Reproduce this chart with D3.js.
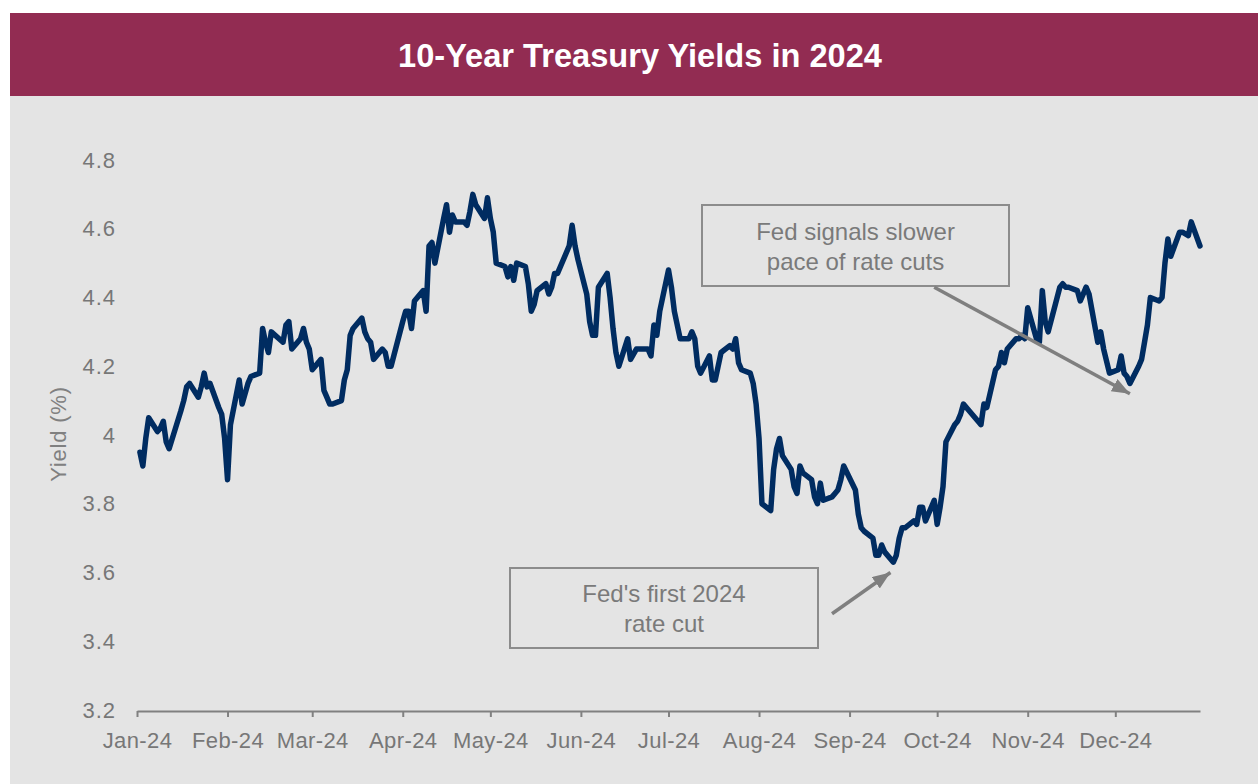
<!doctype html>
<html>
<head>
<meta charset="utf-8">
<title>10-Year Treasury Yields in 2024</title>
<script src="https://d3js.org/d3.v7.min.js"></script>
<style>
  body { margin: 0; background: #fff; }
  text { font-family: "Liberation Sans", Arial, sans-serif; }
</style>
</head>
<body>
<div id="chart"></div>
<script>

// trading days of 2024 (month-day)
var days = [
  "01-02","01-03","01-04","01-05","01-08","01-09","01-10","01-11","01-12","01-16","01-17","01-18","01-19","01-22","01-23","01-24","01-25","01-26","01-29","01-30","01-31",
  "02-01","02-02","02-05","02-06","02-07","02-08","02-09","02-12","02-13","02-14","02-15","02-16","02-20","02-21","02-22","02-23","02-26","02-27","02-28","02-29",
  "03-01","03-04","03-05","03-06","03-07","03-08","03-11","03-12","03-13","03-14","03-15","03-18","03-19","03-20","03-21","03-22","03-25","03-26","03-27","03-28",
  "04-01","04-02","04-03","04-04","04-05","04-08","04-09","04-10","04-11","04-12","04-15","04-16","04-17","04-18","04-19","04-22","04-23","04-24","04-25","04-26","04-29","04-30",
  "05-01","05-02","05-03","05-06","05-07","05-08","05-09","05-10","05-13","05-14","05-15","05-16","05-17","05-20","05-21","05-22","05-23","05-24","05-28","05-29","05-30","05-31",
  "06-03","06-04","06-05","06-06","06-07","06-10","06-11","06-12","06-13","06-14","06-17","06-18","06-20","06-21","06-24","06-25","06-26","06-27","06-28",
  "07-01","07-02","07-03","07-05","07-08","07-09","07-10","07-11","07-12","07-15","07-16","07-17","07-18","07-19","07-22","07-23","07-24","07-25","07-26","07-29","07-30","07-31",
  "08-01","08-02","08-05","08-06","08-07","08-08","08-09","08-12","08-13","08-14","08-15","08-16","08-19","08-20","08-21","08-22","08-23","08-26","08-27","08-28","08-29","08-30",
  "09-03","09-04","09-05","09-06","09-09","09-10","09-11","09-12","09-13","09-16","09-17","09-18","09-19","09-20","09-23","09-24","09-25","09-26","09-27","09-30",
  "10-01","10-02","10-03","10-04","10-07","10-08","10-09","10-10","10-11","10-15","10-16","10-17","10-18","10-21","10-22","10-23","10-24","10-25","10-28","10-29","10-30","10-31",
  "11-01","11-04","11-05","11-06","11-07","11-08","11-12","11-13","11-14","11-15","11-18","11-19","11-20","11-21","11-22","11-25","11-26","11-27","11-29",
  "12-02","12-03","12-04","12-05","12-06","12-09","12-10","12-11","12-12","12-13","12-16","12-17","12-18","12-19","12-20","12-23","12-24","12-26","12-27","12-30"
];

// 10-year yield, %
var yields = [
  3.95,3.91,3.99,4.05,4.01,4.02,4.04,3.98,3.96,4.07,4.10,4.14,4.15,4.11,4.14,4.18,4.14,4.15,4.08,4.06,3.99,
  3.87,4.03,4.16,4.09,4.12,4.15,4.17,4.18,4.31,4.27,4.24,4.30,4.27,4.32,4.33,4.25,4.28,4.31,4.27,4.25,
  4.19,4.22,4.13,4.11,4.09,4.09,4.10,4.16,4.19,4.29,4.31,4.34,4.30,4.28,4.27,4.22,4.25,4.24,4.20,4.20,
  4.33,4.36,4.36,4.31,4.39,4.42,4.36,4.55,4.56,4.50,4.63,4.67,4.59,4.64,4.62,4.62,4.61,4.65,4.70,4.67,4.63,4.69,
  4.63,4.59,4.50,4.49,4.46,4.49,4.45,4.50,4.49,4.44,4.36,4.38,4.42,4.44,4.41,4.43,4.47,4.47,4.55,4.61,4.55,4.51,
  4.41,4.33,4.29,4.29,4.43,4.47,4.40,4.31,4.24,4.20,4.28,4.22,4.25,4.25,4.25,4.23,4.32,4.29,4.36,
  4.48,4.43,4.36,4.28,4.28,4.30,4.28,4.20,4.18,4.23,4.16,4.16,4.20,4.24,4.26,4.25,4.28,4.21,4.19,4.18,4.15,4.09,
  3.99,3.80,3.78,3.90,3.96,3.99,3.94,3.90,3.85,3.83,3.91,3.89,3.87,3.82,3.80,3.86,3.81,3.82,3.83,3.84,3.87,3.91,
  3.84,3.77,3.73,3.72,3.70,3.65,3.65,3.68,3.66,3.63,3.65,3.70,3.73,3.73,3.75,3.74,3.79,3.79,3.75,3.81,
  3.74,3.79,3.85,3.98,4.03,4.04,4.06,4.09,4.08,4.04,4.03,4.09,4.08,4.19,4.20,4.24,4.21,4.25,4.28,4.28,4.29,4.28,
  4.37,4.28,4.27,4.42,4.33,4.30,4.43,4.44,4.43,4.43,4.42,4.39,4.41,4.43,4.41,4.27,4.30,4.25,4.18,
  4.19,4.23,4.18,4.17,4.15,4.20,4.22,4.27,4.32,4.40,4.39,4.40,4.50,4.57,4.52,4.59,4.59,4.58,4.62,4.55
];

var yTicks = [3.2, 3.4, 3.6, 3.8, 4.0, 4.2, 4.4, 4.6, 4.8];
var xStart = "2024-01-01", xEnd = "2024-12-30";
var title = "10-Year Treasury Yields in 2024";
var yLabel = "Yield (%)";

// annotation texts and where the arrows point (date, yield)
var noteLines = [["Fed signals slower", "pace of rate cuts"], ["Fed's first 2024", "rate cut"]];
var noteFrom = [["2024-09-30", 4.43], ["2024-08-26", 3.48]];
var noteTo   = [["2024-12-06", 4.12], ["2024-09-15", 3.60]];

var W = 1258, H = 784;
var parse = d3.timeParse("%Y-%m-%d");

var data = days.map(function(d, i) {
  return { date: parse("2024-" + d), v: yields[i] };
});

var svg = d3.select("#chart").append("svg")
  .attr("width", W)
  .attr("height", H);

// header band + grey panel
svg.append("rect").attr("x", 10).attr("y", 13).attr("width", W - 10).attr("height", 83).attr("fill", "#922c52");
svg.append("rect").attr("x", 10).attr("y", 96).attr("width", W - 10).attr("height", H - 96).attr("fill", "#e4e4e4");

svg.append("text")
  .attr("x", 640).attr("y", 67)
  .attr("text-anchor", "middle")
  .attr("textLength", 484)
  .attr("lengthAdjust", "spacingAndGlyphs")
  .style("font-size", "34px")
  .style("font-weight", "bold")
  .style("fill", "#fff")
  .text(title);

// scales
var x = d3.scaleTime()
  .domain([parse(xStart), parse(xEnd)])
  .range([137, 1200]);
var y = d3.scaleLinear()
  .domain([3.2, 4.8])
  .range([710, 160]);

// x axis
var gx = svg.append("g")
  .attr("transform", "translate(0,711)")
  .call(d3.axisBottom(x)
    .tickValues(d3.timeMonth.range(parse("2024-01-01"), parse("2024-12-02")))
    .tickFormat(d3.timeFormat("%b-%y"))
    .tickSize(6)
    .tickSizeOuter(0)
    .tickPadding(15));
gx.select(".domain").attr("stroke", "#808080").attr("stroke-width", 2);
gx.selectAll(".tick line").attr("stroke", "#808080").attr("stroke-width", 2);
gx.selectAll(".tick text")
  .style("font-size", "22px")
  .style("letter-spacing", "0.4px")
  .style("font-family", "Liberation Sans, Arial, sans-serif")
  .attr("fill", "#777");

// y axis
var gy = svg.append("g")
  .attr("transform", "translate(137,0)")
  .call(d3.axisLeft(y)
    .tickValues(yTicks)
    .tickSize(0)
    .tickPadding(21)
    .tickFormat(function(d) { return String(+d.toFixed(1)); }));
gy.select(".domain").remove();
gy.selectAll(".tick text")
  .style("font-size", "22px")
  .style("letter-spacing", "1px")
  .style("font-family", "Liberation Sans, Arial, sans-serif")
  .attr("fill", "#777");

svg.append("text")
  .attr("transform", "translate(66,434) rotate(-90)")
  .attr("text-anchor", "middle")
  .style("font-size", "22px")
  .style("letter-spacing", "0.8px")
  .style("fill", "#808080")
  .text(yLabel);

// the yield line
var line = d3.line()
  .x(function(d) { return x(d.date); })
  .y(function(d) { return y(d.v); });

svg.append("path")
  .datum(data)
  .attr("d", line)
  .attr("fill", "none")
  .attr("stroke", "#002c61")
  .attr("stroke-width", 5.5)
  .attr("stroke-linejoin", "round")
  .attr("stroke-linecap", "round");

// annotations
svg.append("defs").append("marker")
  .attr("id", "head")
  .attr("markerUnits", "userSpaceOnUse")
  .attr("markerWidth", 20).attr("markerHeight", 16)
  .attr("refX", 18).attr("refY", 7)
  .attr("orient", "auto")
  .append("path")
  .attr("d", "M0,0L18,7L0,14Z")
  .attr("fill", "#7f7f7f");

var boxes = [
  { x: 702, y: 205, w: 307, h: 81, base: 240 },
  { x: 510, y: 568, w: 308, h: 80, base: 602 }
];

boxes.forEach(function(b, i) {
  svg.append("rect")
    .attr("x", b.x).attr("y", b.y)
    .attr("width", b.w).attr("height", b.h)
    .attr("fill", "none")
    .attr("stroke", "#8c8c8c")
    .attr("stroke-width", 2);
  noteLines[i].forEach(function(t, j) {
    svg.append("text")
      .attr("x", b.x + b.w / 2)
      .attr("y", b.base + j * 30)
      .attr("text-anchor", "middle")
      .style("font-size", "24px")
      .style("fill", "#7a7a7a")
      .text(t);
  });
  svg.append("line")
    .attr("x1", x(parse(noteFrom[i][0]))).attr("y1", y(noteFrom[i][1]))
    .attr("x2", x(parse(noteTo[i][0]))).attr("y2", y(noteTo[i][1]))
    .attr("stroke", "#7f7f7f")
    .attr("stroke-width", 3.5)
    .attr("marker-end", "url(#head)");
});

</script>
</body>
</html>
